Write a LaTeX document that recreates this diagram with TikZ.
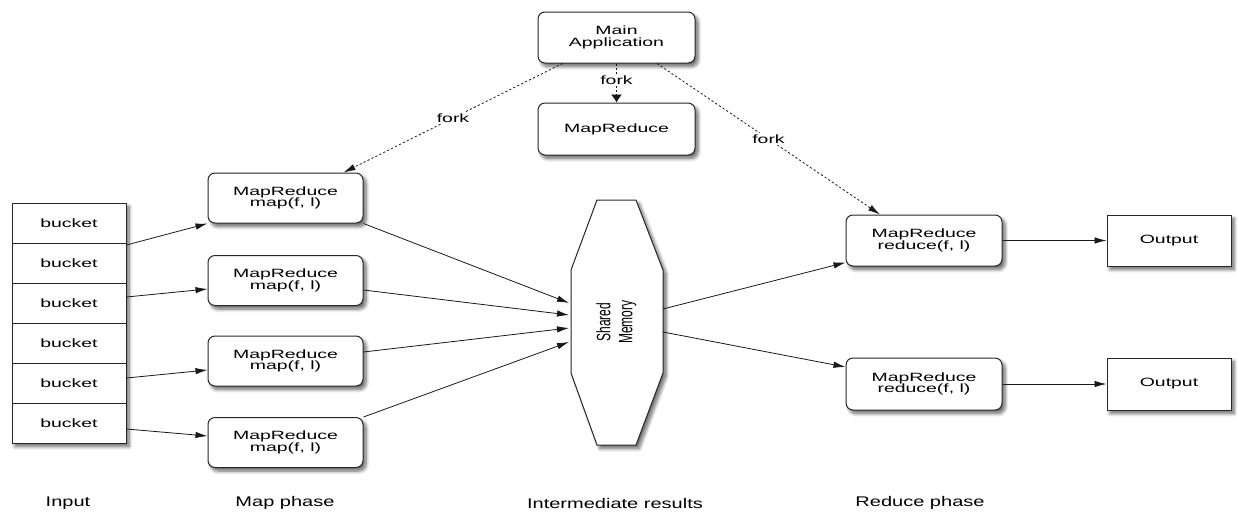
\documentclass[tikz,border=0pt]{standalone}
\usepackage{fontspec}
\usepackage{graphicx}
\setmainfont{Liberation Sans}[FakeStretch=1.62]
\newfontfamily\capfont{Liberation Sans}[FakeStretch=1.43]
\newfontfamily\plainfont{Liberation Sans}
\usetikzlibrary{arrows.meta,shadows.blur}

\begin{document}
\begin{tikzpicture}[x=1pt,y=-1pt,
  every node/.style={font=\fontsize{12}{11.7}\selectfont, align=center, inner sep=0pt},
  boxshadow/.style={blur shadow={shadow xshift=3pt, shadow yshift=-3.5pt,
      shadow blur steps=8, shadow opacity=60, shadow blur radius=3.5pt}},
  rbox/.style={draw=black!85, line width=1pt, fill=white, rounded corners=7pt,
      boxshadow, minimum height=51pt},
  sbox/.style={draw=black!85, line width=1pt, fill=white, boxshadow,
      minimum width=124pt, minimum height=51pt},
  cell/.style={draw=black!85, line width=0.9pt, minimum width=114pt, minimum height=40pt},
  arr/.style={-{Latex[length=12pt,width=6.5pt]}, line width=0.8pt, draw=black!90},
  fork/.style={arr, dash pattern=on 2.2pt off 2.2pt},
  forkv/.style={-{Latex[length=8pt,width=11pt]}, line width=0.8pt, draw=black!90,
      dash pattern=on 2.2pt off 2.2pt},
  lbl/.style={fill=white, inner sep=1.5pt},
  caplbl/.style={font=\capfont\fontsize{14}{14}\selectfont}
]
\useasboundingbox (0,0) rectangle (1238,514);

% driver and the forked map/reduce workers
\node[rbox, minimum width=157pt] (main) at (616.5,37.5) {Main\\Application};
\node[rbox, minimum width=157pt, minimum height=52pt] (mr) at (616.5,129) {MapReduce};

% input buckets
\node[fill=white, boxshadow, minimum width=114pt, minimum height=240pt] (col) at (69,323) {};
\foreach \i in {1,...,6}
  \node[cell] (b\i) at (69,183+40*\i) {bucket};

% map phase
\node[rbox, minimum width=155pt, minimum height=50pt] (map1) at (285.5,198)   {MapReduce\\map(f, l)};
\node[rbox, minimum width=155pt, minimum height=50pt] (map2) at (285.5,280.5) {MapReduce\\map(f, l)};
\node[rbox, minimum width=155pt, minimum height=50pt] (map3) at (285.5,361)   {MapReduce\\map(f, l)};
\node[rbox, minimum width=155pt, minimum height=50pt] (map4) at (285.5,442.5) {MapReduce\\map(f, l)};

% shared memory
\path[draw=black!85, line width=1pt, fill=white, boxshadow]
  (597,200) -- (636,200) -- (663,270) -- (663,373) -- (636,445) -- (597,445)
  -- (571,373) -- (571,270) -- cycle;
\node (smtext) at (617,322) {\plainfont\fontsize{12}{13.6}\selectfont
  \scalebox{1.62}[1]{\rotatebox{90}{\begin{tabular}{@{}c@{}}Shared\\Memory\end{tabular}}}};
\coordinate (s1) at (569,303);
\coordinate (s2) at (569,315);
\coordinate (s3) at (569,328);
\coordinate (s4) at (569,342);
\coordinate (o1) at (663,309);
\coordinate (o2) at (663,332);

% reduce phase and outputs
\node[rbox, minimum width=156pt] (red1) at (924,240.5) {MapReduce\\reduce(f, l)};
\node[rbox, minimum width=156pt, minimum height=52pt] (red2) at (924,384) {MapReduce\\reduce(f, l)};
\node[sbox] (out1) at (1169,240.5) {Output};
\node[sbox, minimum height=52pt] (out2) at (1169,384) {Output};

% forks
\draw[fork] ([xshift=-54pt]main.south) -- node[lbl]{fork} ([xshift=-20pt]map1.north east);
\draw[fork] ([xshift=40.5pt]main.south) -- node[lbl]{fork} ([xshift=-44pt]red1.north);
\draw[forkv] (main.south) -- node[lbl, pos=0.43]{fork} (mr.north);

% buckets to mappers
\draw[arr] ([yshift=18pt]b2.east) -- (map1.south west);
\draw[arr] ([yshift=6pt]b3.east) -- ([yshift=-8.5pt]map2.west);
\draw[arr] ([yshift=5pt]b5.east) -- ([yshift=-9pt]map3.west);
\draw[arr] ([yshift=-6pt]b6.east) -- ([yshift=6.5pt]map4.west);

% mappers to shared memory
\draw[arr] (map1.south east) -- (s1);
\draw[arr] ([yshift=-9.5pt]map2.east) -- (s2);
\draw[arr] ([yshift=9pt]map3.east) -- (s3);
\draw[arr] (map4.north east) -- (s4);

% shared memory to reducers
\draw[arr] (o1) -- ([yshift=4pt]red1.south west);
\draw[arr] (o2) -- ([yshift=17pt]red2.west);

% reducers to outputs
\draw[arr] (red1) -- (out1);
\draw[arr] (red2) -- (out2);

% phase captions
\node[caplbl] (cin)  at (68,503)  {Input};
\node[caplbl] (cmap) at (285,503) {Map phase};
\node[caplbl] (cmid) at (615,503) {Intermediate results};
\node[caplbl] (cred) at (920,503) {Reduce phase};
\end{tikzpicture}
\end{document}
